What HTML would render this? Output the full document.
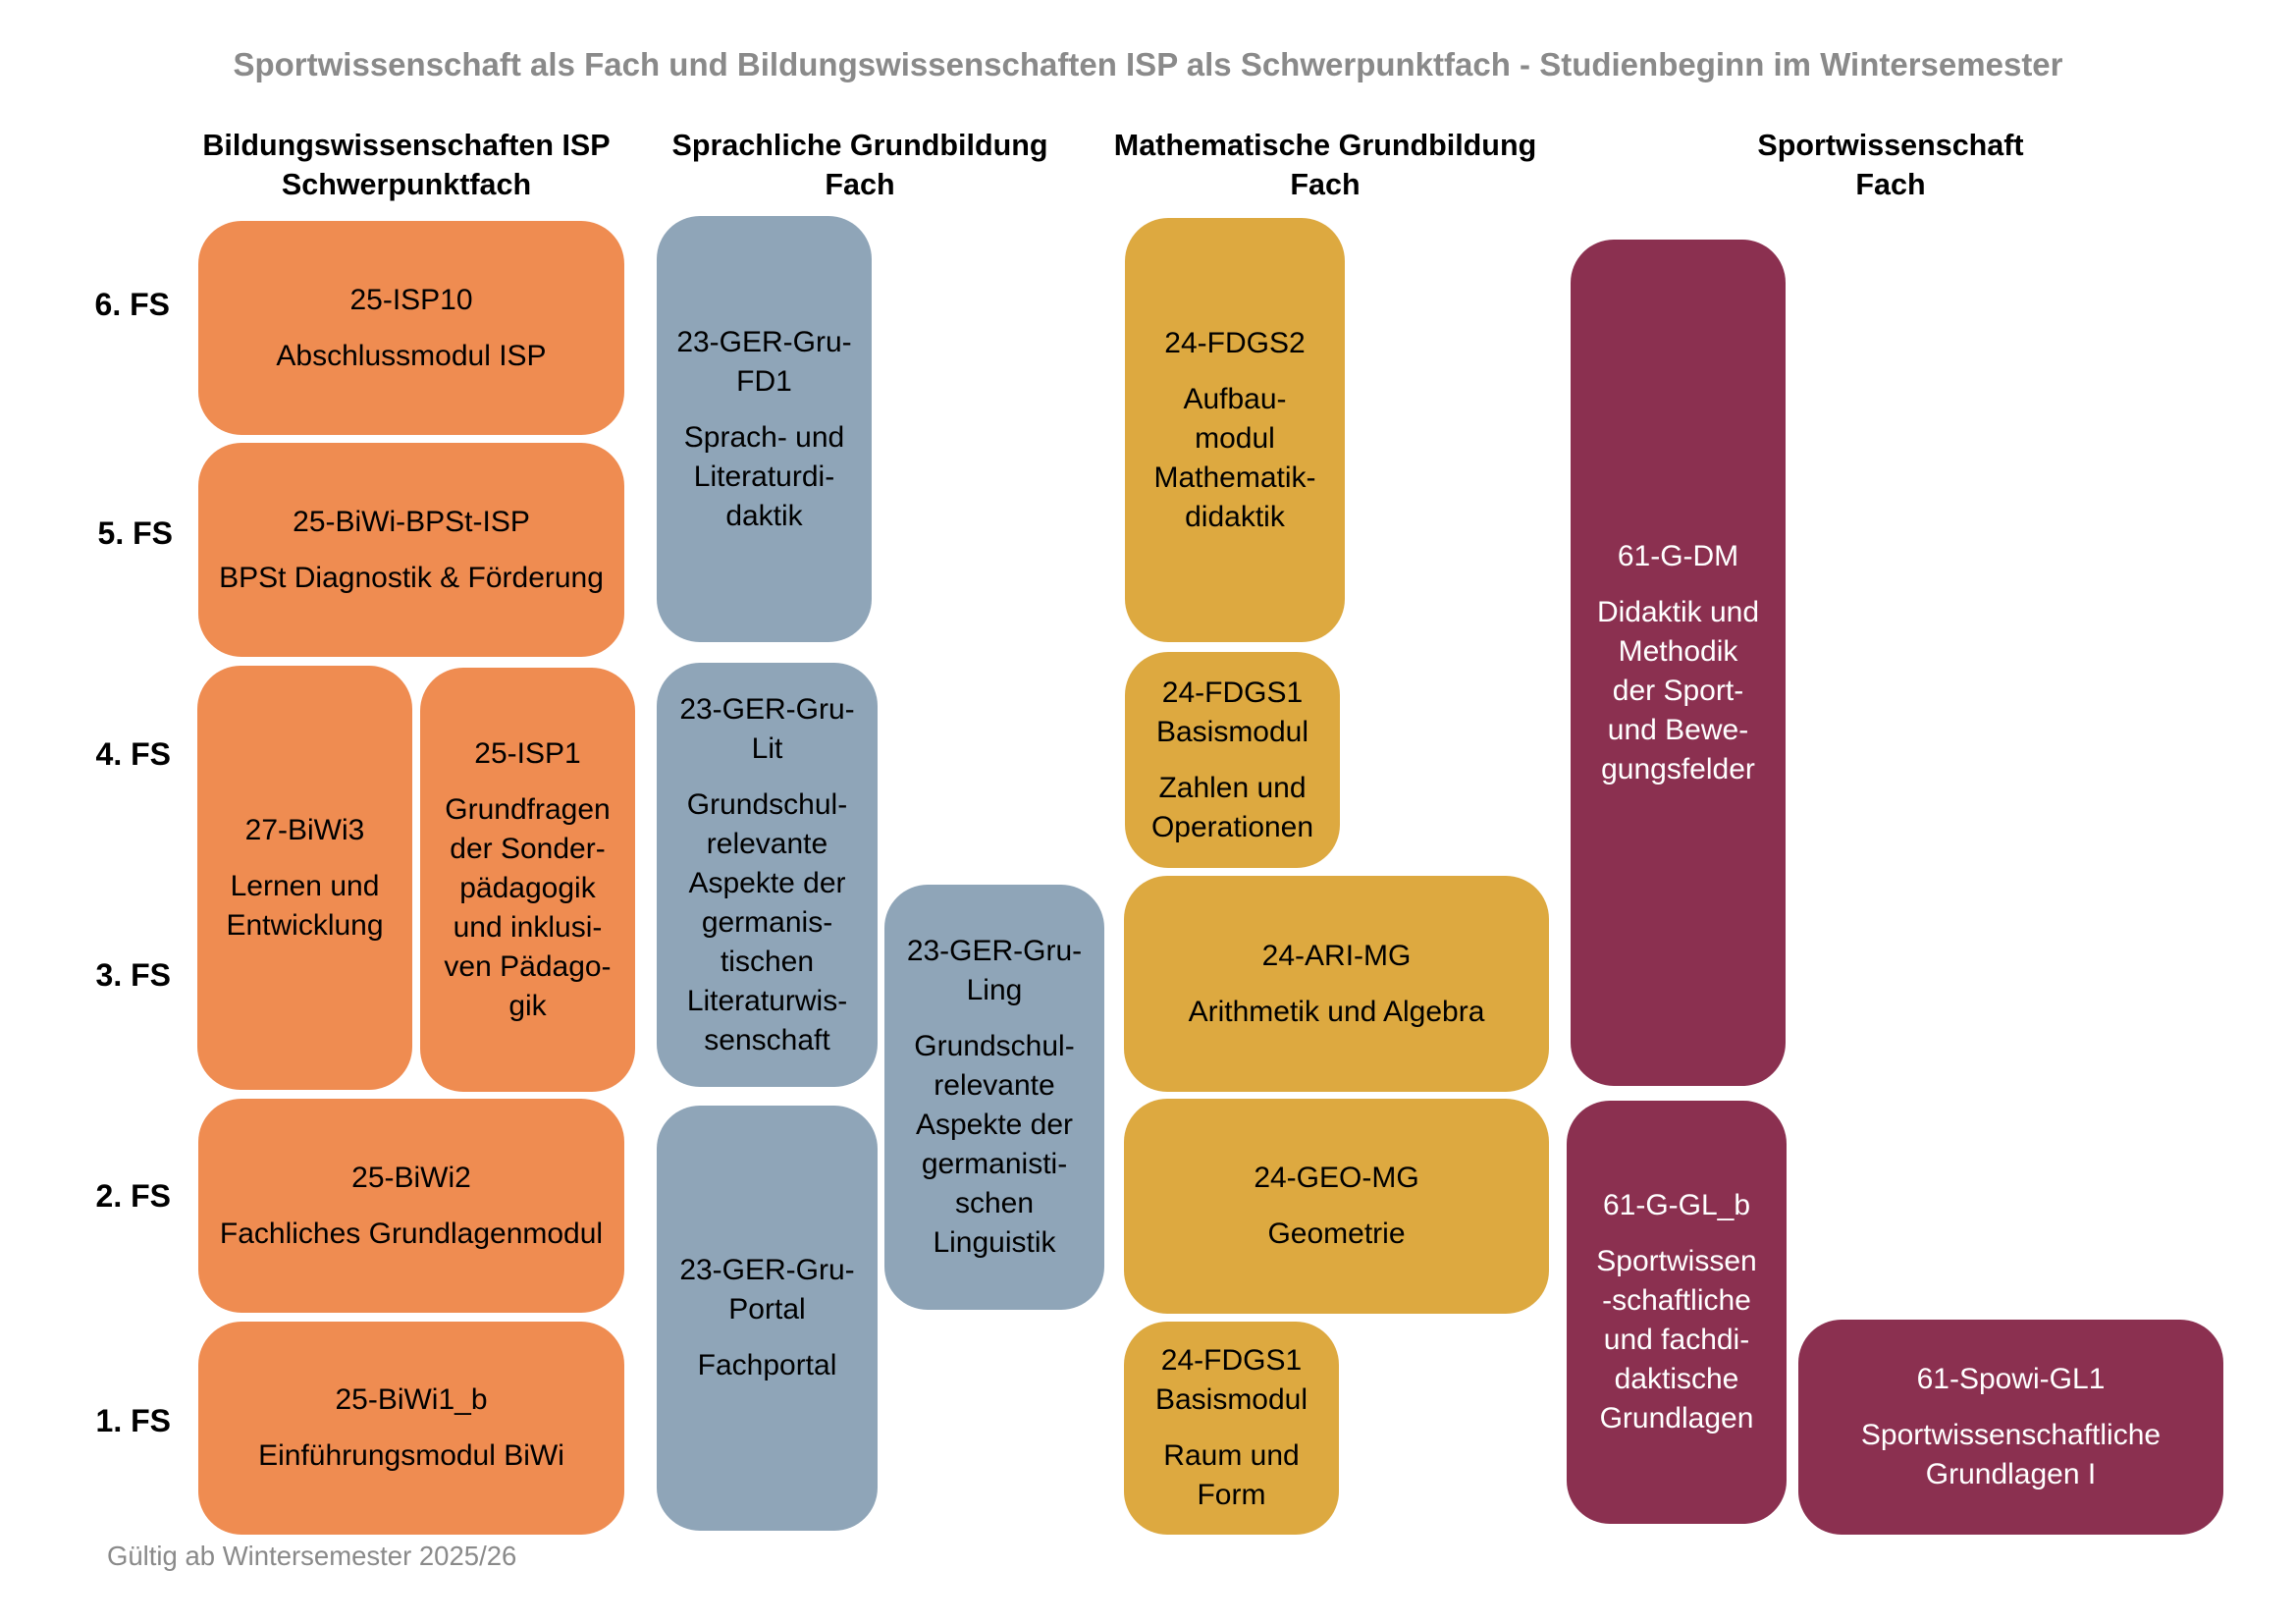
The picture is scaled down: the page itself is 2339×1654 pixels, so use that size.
<!DOCTYPE html>
<html><head><meta charset="utf-8"><style>
body{margin:0;width:2339px;height:1654px;background:#fff;position:relative;overflow:hidden;font-family:"Liberation Sans",Arial,sans-serif;}
.b{position:absolute;border-radius:44px;display:flex;flex-direction:column;justify-content:center;align-items:center;text-align:center;font-size:30px;line-height:40px;color:#000;box-sizing:border-box;white-space:nowrap;}
.b .t{margin-top:17px;}
.o{background:#EF8C51}.g{background:#8FA5B8}.y{background:#DDA940}.p{background:#8B3050;color:#fff}
.h{position:absolute;font-weight:bold;font-size:30.5px;line-height:40px;text-align:center;transform:translateX(-50%);white-space:nowrap;}
.r{position:absolute;font-weight:bold;font-size:32px;width:120px;text-align:right;line-height:40px;}
</style></head><body>
<div style="position:absolute;left:0;width:2339px;top:46px;text-align:center;font-weight:bold;font-size:33px;color:#8a8a8a;line-height:40px;white-space:nowrap;">Sportwissenschaft als Fach und Bildungswissenschaften ISP als Schwerpunktfach - Studienbeginn im Wintersemester</div>
<div class="h" style="left:414px;top:128px">Bildungswissenschaften ISP<br>Schwerpunktfach</div>
<div class="h" style="left:876px;top:128px">Sprachliche Grundbildung<br>Fach</div>
<div class="h" style="left:1350px;top:128px">Mathematische Grundbildung<br>Fach</div>
<div class="h" style="left:1926px;top:128px">Sportwissenschaft<br>Fach</div>
<div class="r" style="left:53px;top:290px">6. FS</div>
<div class="r" style="left:56px;top:523px">5. FS</div>
<div class="r" style="left:54px;top:748px">4. FS</div>
<div class="r" style="left:54px;top:973px">3. FS</div>
<div class="r" style="left:54px;top:1198px">2. FS</div>
<div class="r" style="left:54px;top:1427px">1. FS</div>

<div class="b o" style="left:202px;top:225px;width:434px;height:218px"><div>25-ISP10</div><div class="t">Abschlussmodul ISP</div></div>
<div class="b o" style="left:202px;top:451px;width:434px;height:218px"><div>25-BiWi-BPSt-ISP</div><div class="t">BPSt Diagnostik &amp; Förderung</div></div>
<div class="b o" style="left:201px;top:678px;width:219px;height:432px"><div>27-BiWi3</div><div class="t">Lernen und<br>Entwicklung</div></div>
<div class="b o" style="left:428px;top:680px;width:219px;height:432px"><div>25-ISP1</div><div class="t">Grundfragen<br>der Sonder-<br>pädagogik<br>und inklusi-<br>ven Pädago-<br>gik</div></div>
<div class="b o" style="left:202px;top:1119px;width:434px;height:218px"><div>25-BiWi2</div><div class="t">Fachliches Grundlagenmodul</div></div>
<div class="b o" style="left:202px;top:1346px;width:434px;height:217px"><div>25-BiWi1_b</div><div class="t">Einführungsmodul BiWi</div></div>

<div class="b g" style="left:669px;top:220px;width:219px;height:434px"><div>23-GER-Gru-<br>FD1</div><div class="t">Sprach- und<br>Literaturdi-<br>daktik</div></div>
<div class="b g" style="left:669px;top:675px;width:225px;height:432px"><div>23-GER-Gru-<br>Lit</div><div class="t">Grundschul-<br>relevante<br>Aspekte der<br>germanis-<br>tischen<br>Literaturwis-<br>senschaft</div></div>
<div class="b g" style="left:669px;top:1126px;width:225px;height:433px"><div>23-GER-Gru-<br>Portal</div><div class="t">Fachportal</div></div>
<div class="b g" style="left:901px;top:901px;width:224px;height:433px"><div>23-GER-Gru-<br>Ling</div><div class="t">Grundschul-<br>relevante<br>Aspekte der<br>germanisti-<br>schen<br>Linguistik</div></div>

<div class="b y" style="left:1146px;top:222px;width:224px;height:432px"><div>24-FDGS2</div><div class="t">Aufbau-<br>modul<br>Mathematik-<br>didaktik</div></div>
<div class="b y" style="left:1146px;top:664px;width:219px;height:220px"><div>24-FDGS1<br>Basismodul</div><div class="t">Zahlen und<br>Operationen</div></div>
<div class="b y" style="left:1145px;top:892px;width:433px;height:220px"><div>24-ARI-MG</div><div class="t">Arithmetik und Algebra</div></div>
<div class="b y" style="left:1145px;top:1119px;width:433px;height:219px"><div>24-GEO-MG</div><div class="t">Geometrie</div></div>
<div class="b y" style="left:1145px;top:1346px;width:219px;height:217px"><div>24-FDGS1<br>Basismodul</div><div class="t">Raum und<br>Form</div></div>

<div class="b p" style="left:1600px;top:244px;width:219px;height:862px"><div>61-G-DM</div><div class="t">Didaktik und<br>Methodik<br>der Sport-<br>und Bewe-<br>gungsfelder</div></div>
<div class="b p" style="left:1596px;top:1121px;width:224px;height:431px"><div>61-G-GL_b</div><div class="t">Sportwissen<br>-schaftliche<br>und fachdi-<br>daktische<br>Grundlagen</div></div>
<div class="b p" style="left:1832px;top:1344px;width:433px;height:219px"><div>61-Spowi-GL1</div><div class="t">Sportwissenschaftliche<br>Grundlagen I</div></div>

<div style="position:absolute;left:109px;top:1570px;font-size:27.5px;color:#8a8a8a;line-height:30px;white-space:nowrap">Gültig ab Wintersemester 2025/26</div>
</body></html>
